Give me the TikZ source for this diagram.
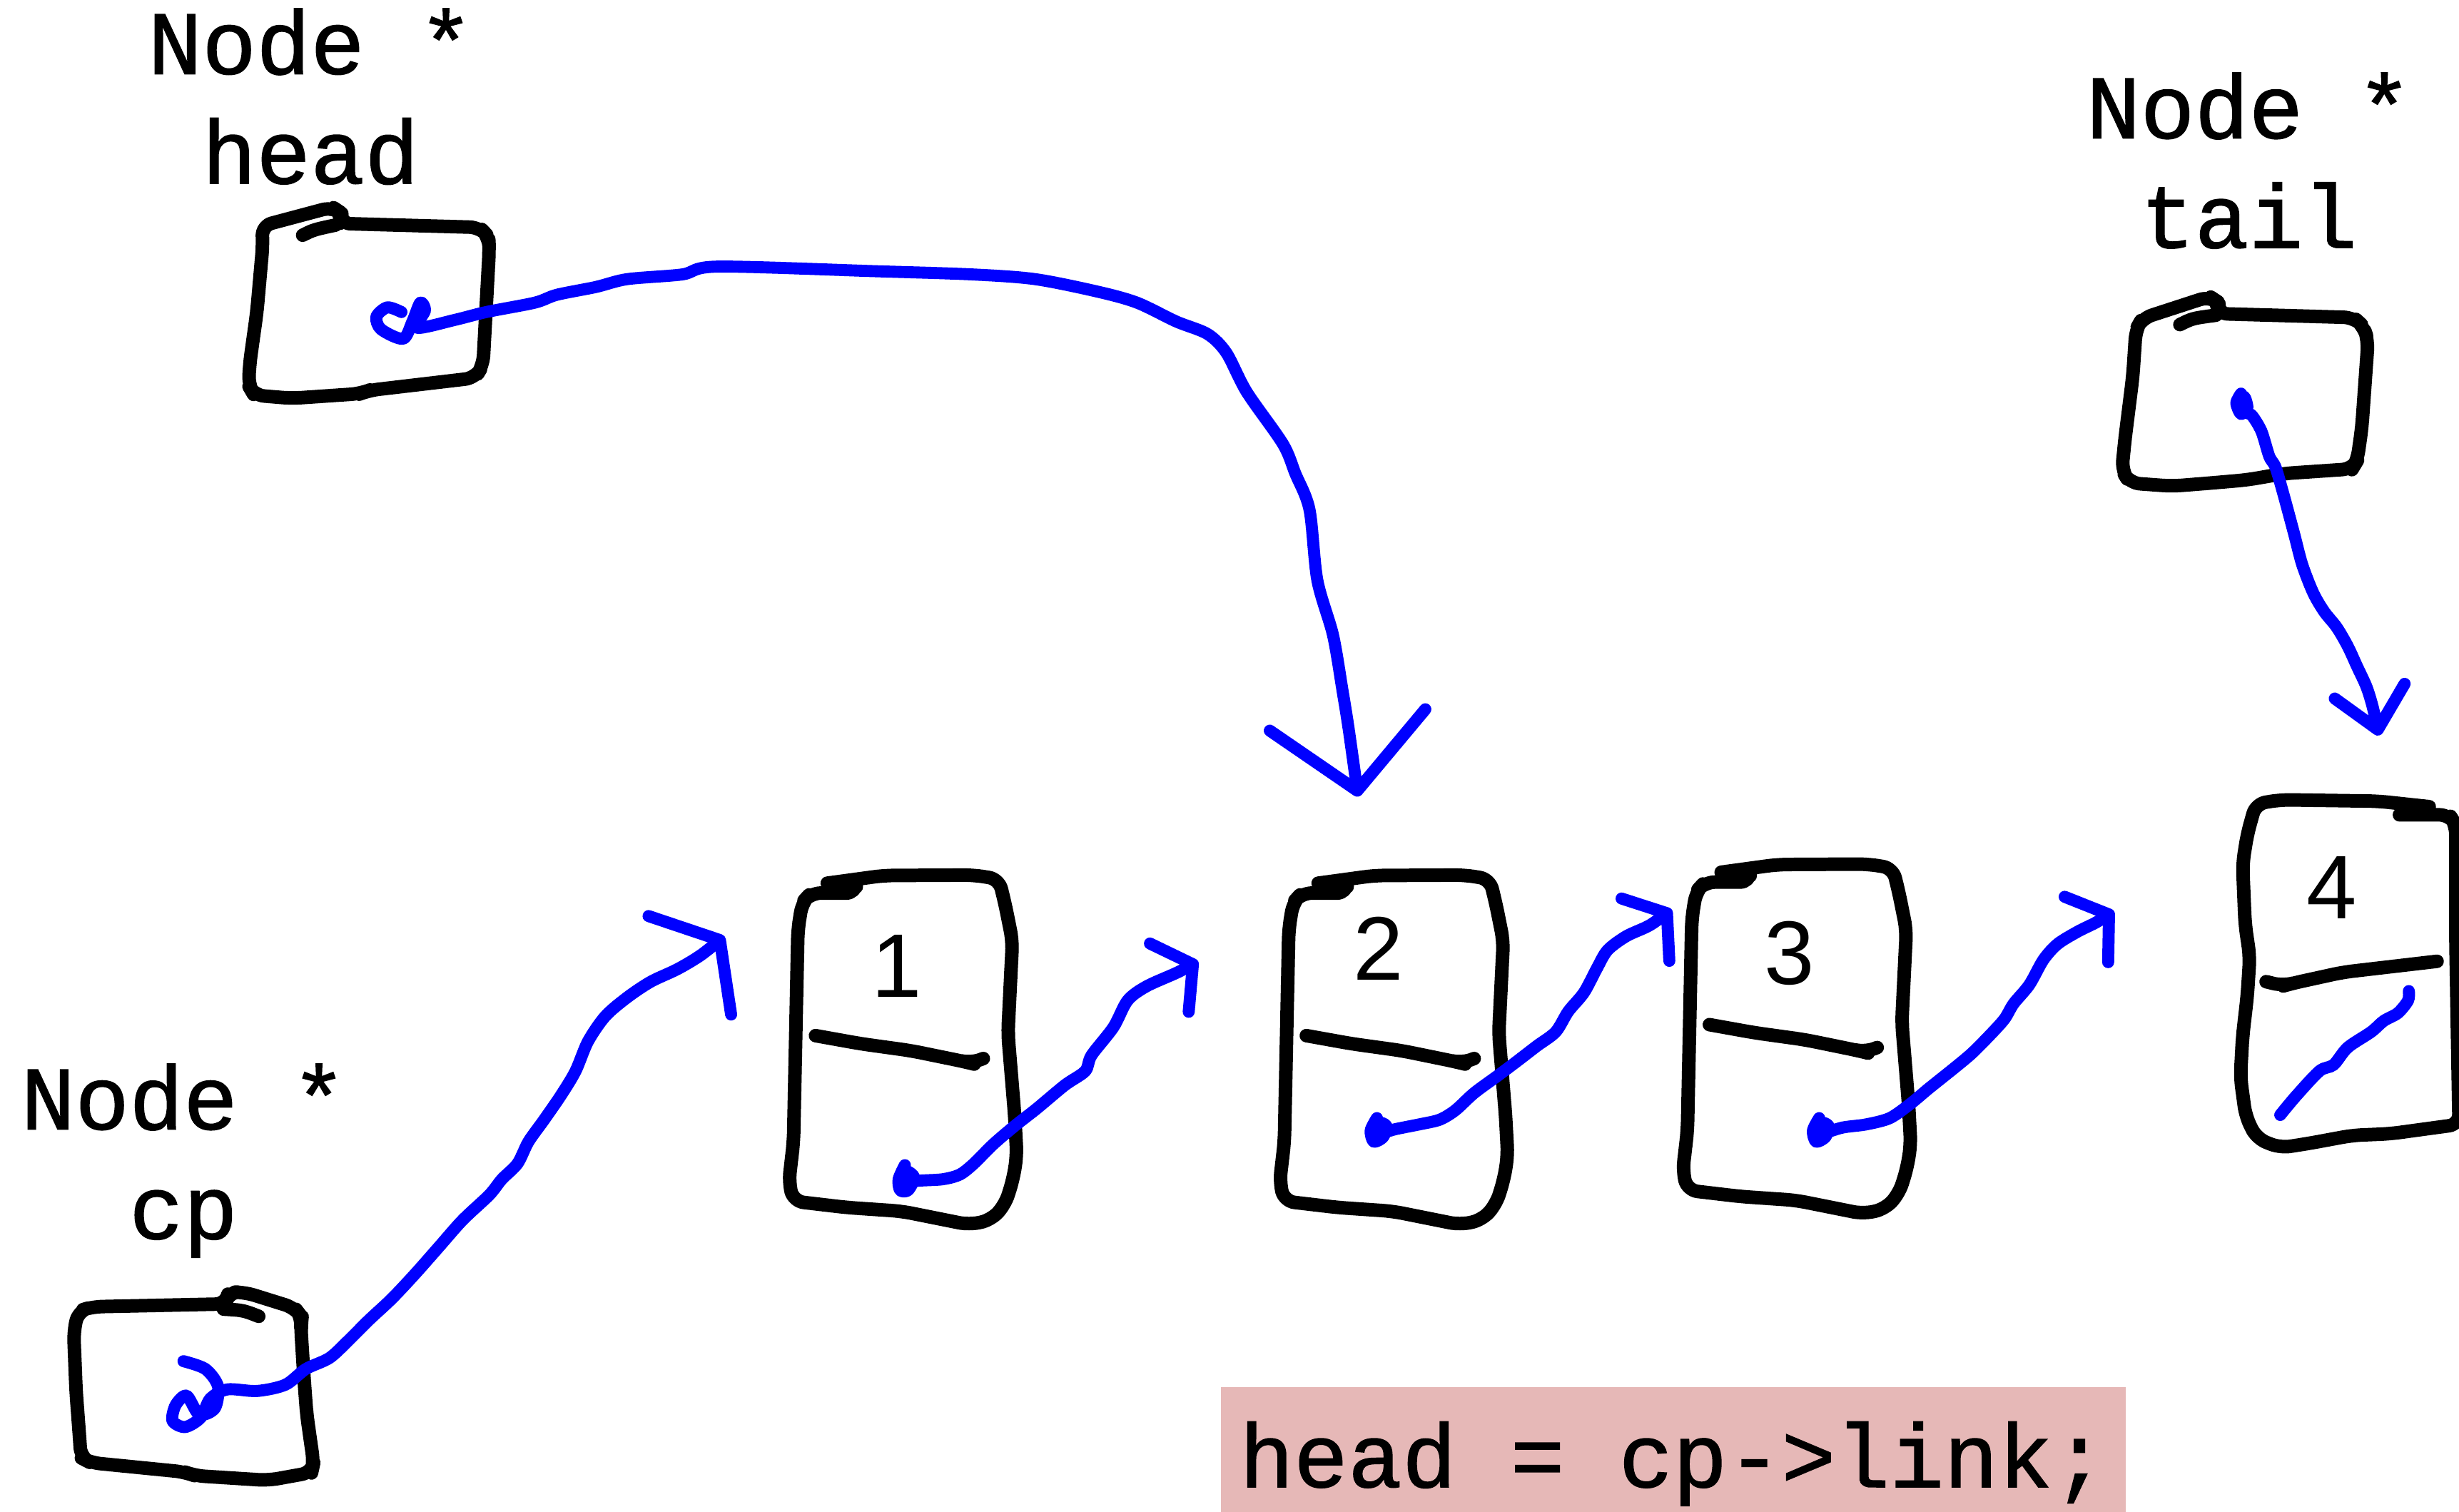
\documentclass[tikz,border=0pt]{standalone}
\usepackage{fontspec}
\setmonofont{Liberation Mono}[BoldFont={Liberation Mono}, BoldFeatures={FakeBold=1.2}]
\setsansfont{Liberation Sans}
\usepackage{tikz}
\usetikzlibrary{arrows.meta}
\definecolor{ptrblue}{RGB}{0,0,255}
\definecolor{stmtpink}{RGB}{230,184,183}

\begin{document}
\begin{tikzpicture}[
    x=0.02198cm, y=-0.02198cm,
    lbl/.style={font=\ttfamily\bfseries\fontsize{36}{43.7}\selectfont, align=center, inner sep=0pt},
    num/.style={font=\sffamily\fontsize{36}{43}\selectfont, inner sep=0pt},
    ink/.style={draw=black, line width=5.4pt, line cap=round, line join=round, rounded corners=4pt},
    ptr/.style={draw=ptrblue, line width=4.8pt, line cap=round, line join=round},
    barb/.style 2 args={-{Straight Barb[length=#1, width=#2, round]}},
    stmt/.style={fill=stmtpink, font=\ttfamily\bfseries\fontsize{36}{43}\selectfont, inner sep=0pt, minimum width=12.68cm, text height=40pt, text depth=10pt}
  ]
    \useasboundingbox (0,0) rectangle (1568,964);

    % pointer variables
    \node[lbl, anchor=base] (headlbl) at (198,117) {Node *\\head};
    \node[lbl, anchor=base] (taillbl) at (1434,158) {Node *\\tail};
    \node[lbl, anchor=base] (cplbl) at (117,790) {Node *\\cp};

    \draw[ink] (217,142.5) -- (218,136) -- (212,132) -- (167,144) -- (167.6,156) -- (163.8,199) -- (159.2,232) -- (158.5,246) -- (162,252) -- (186,254) -- (230,251) -- (235,249) -- (303,241) -- (308,233) -- (312,159) -- (311.6,151) -- (306,145) -- cycle;
    \draw[ink] (193,150) .. controls (200,146.5) .. (214,143.5);

    \draw[ink] (1414,200) -- (1415,193) -- (1409,189) -- (1366,203) -- (1362,210) -- (1360,240) -- (1355,280) -- (1353,300) -- (1358,308) -- (1385,310) -- (1410,308) -- (1433,306) -- (1456,302) -- (1500,299) -- (1503,294) -- (1506,273) -- (1510,217) -- (1507,208) -- (1501,202.5) -- cycle;
    \draw[ink] (1390,207) .. controls (1398,203) .. (1413,201);

    \draw[ink] (144,831.5) -- (145.6,824) -- (156,824) -- (188,834) -- (192.6,840) -- (191.8,846) -- (194,881) -- (195.6,902) -- (200,933) -- (198.7,939) -- (171,944) -- (124,941) -- (118,938.7) -- (57.6,932.7) -- (51.6,929.6) -- (50.8,917.5) -- (48.5,887) -- (47,849) -- (50,836) -- (59,833.3) -- cycle;
    \draw[ink] (142.5,834.8) .. controls (155,835.5) .. (165,839.4);

    % list cells 1..3
    \foreach \dx/\dy/\nx/\ny/\val in {0/0/572/616/1, 313/0/879/605/2, 570/-7/1141/608/3} {
      \begin{scope}[shift={(\dx,\dy)}]
        \draw[ink] (546,565.5) -- (546,569.5) -- (517,569.5) -- (511.6,575.4) -- (508.8,592.7) -- (506,728) -- (503,754) -- (506,766) -- (540,770) -- (575,772.4) -- (598,777) -- (618,781) -- (632,778) -- (641,768) -- (646,752) -- (648.4,737) -- (647,711) -- (642.7,659) -- (645.6,600) -- (641,577) -- (637,560.6) -- (621,558) -- (563.5,558.3) -- (527.5,563.2);
        \draw[ink] (520,660.4) -- (549,665.6) -- (580.8,670) -- (615,677) -- (619,678) -- (627,675);
      \end{scope}
      \node[num] (val\val) at (\nx,\ny) {\val};
    }

    % last cell
    \draw[ink] (1530,519.6) -- (1562,519.6) -- (1566,526) -- (1566,600) -- (1568,717) -- (1524,723) -- (1500,724) -- (1473,729) -- (1454,732) -- (1439,726) -- (1432,712) -- (1428.6,687) -- (1430,661) -- (1433,635) -- (1434.6,610) -- (1431.6,589.5) -- (1430,551) -- (1433,532) -- (1438.4,512.6) -- (1454.4,510) -- (1516.5,510.9) -- (1549,514.4);
    \draw[ink] (1445,626) -- (1456,628.7) -- (1462,627) -- (1494,620) -- (1524,616.5) -- (1554,613);
    \node[num] (val4) at (1487,566) {4};
    \draw[ptr] plot[smooth, tension=0.5] coordinates {(1454,711) (1464,699) (1479,683) (1488,679) (1497,668) (1512,658) (1520,651) (1529,646) (1535.5,638) (1536,632)};

    % pointers
    \coordinate (hsrc) at (256,199);
    \coordinate (htip) at (866,508);
    \coordinate (tsrc) at (1429,251);
    \coordinate (ttip) at (1517,469);
    \coordinate (cpsrc) at (117,868);
    \coordinate (cptip) at (462,597);
    \coordinate (s12) at (577,743);
    \coordinate (t12) at (764,613);
    \coordinate (s23) at (878,713);
    \coordinate (t23) at (1066,580);
    \coordinate (s34) at (1160,713);
    \coordinate (t34) at (1348,581);

    \draw[ptr, barb={1.0cm}{2.2cm}] plot[smooth, tension=0.5] coordinates {(hsrc) (247,196) (240,202) (243,210) (257,216) (263,205) (268,193) (271,198) (266,209) (290,204) (310,199) (341,193) (355,188) (380,183) (400,178) (435,175) (458,170) (560,173) (620,175) (660,178) (700,186) (725,193) (750,205) (770,213) (782,225) (795,250) (818,283) (826,302) (835,325) (840,370) (850,405) (856,440) (860,465) (htip)};
    \draw[ptr, barb={0.55cm}{1.0cm}] plot[smooth, tension=0.5] coordinates {(tsrc) (1426,257) (1429,264) (1433,260) (1431,253) (1428,258) (1432,263) (1436,265) (1442,275) (1447,291) (1451,298) (1456,315) (1463,341) (1468,360) (1475,378) (1482,390) (1490,400) (1497,412) (1503,425) (1509,438) (1513,451) (ttip)};
    \draw[ptr, barb={0.55cm}{1.8cm}] plot[smooth, tension=0.5] coordinates {(cpsrc) (131,873) (139,884) (137,898) (127,902) (119,890) (112,896) (110,906) (118,910) (128,904) (134,892) (145,886) (164,887) (182,883) (195,873) (210,866) (222,855) (235,842) (250,828) (265,812) (280,795) (295,778) (312,762) (320,752) (330,742) (337,728) (347,714) (358,698) (367,683) (375,664) (386,648) (400,636) (415,626) (432,618) (447,609) (cptip)};
    \draw[ptr, barb={0.38cm}{1.1cm}] plot[smooth, tension=0.5] coordinates {(s12) (573,752) (574,759) (579,759) (583,751) (578,747) (576,755) (585,753) (601,752) (612,749) (621,742) (633,730) (647,718) (661,707) (679,692) (692,683) (696,673) (710,655) (719,638) (731,629) (751,620) (t12)};
    \draw[ptr, barb={0.38cm}{1.1cm}] plot[smooth, tension=0.5] coordinates {(s23) (874,721) (876,728) (882,725) (884,718) (879,716) (878,723) (890,720) (905,717) (918,714) (928,708) (940,697) (955,686) (967,677) (980,667) (992,658) (1000,645) (1010,633) (1018,618) (1025,606) (1037,597) (1052,590) (t23)};
    \draw[ptr, barb={0.38cm}{1.1cm}] plot[smooth, tension=0.5] coordinates {(s34) (1156,721) (1158,728) (1164,725) (1166,718) (1161,716) (1160,723) (1175,719) (1190,717) (1205,713) (1218,704) (1230,694) (1245,682) (1257,672) (1268,661) (1278,650) (1284,640) (1294,628) (1303,612) (1312,602) (1325,594) (1337,588) (t34)};

    % statement
    \node[stmt, anchor=north west] (stmtbox) at (778,884) {head = cp->link;};
\end{tikzpicture}
\end{document}
